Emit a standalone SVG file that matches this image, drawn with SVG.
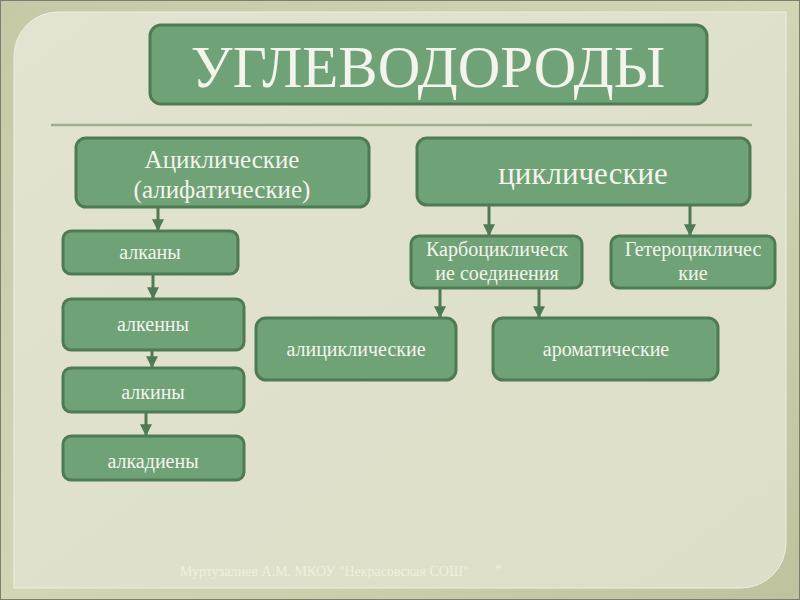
<svg xmlns="http://www.w3.org/2000/svg" width="800" height="600" viewBox="0 0 800 600">
<defs>
<linearGradient id="frame" x1="0" y1="0" x2="1" y2="1">
<stop offset="0" stop-color="#c6c8a6"/>
<stop offset="0.5" stop-color="#d3d5b5"/>
<stop offset="1" stop-color="#c0c29e"/>
</linearGradient>
<linearGradient id="panel" x1="0" y1="0" x2="1" y2="1">
<stop offset="0" stop-color="#e2e3d0"/>
<stop offset="1" stop-color="#dcdec7"/>
</linearGradient>
<marker id="ah" viewBox="0 0 10 10" refX="9" refY="5" markerWidth="4" markerHeight="4" orient="auto" markerUnits="strokeWidth">
<path d="M0,0 L10,5 L0,10 z" fill="#4f7b54"/>
</marker>
</defs>
<style>
.box{fill:#6fa277;stroke:#4f7b54;stroke-width:3}
.t{font-family:"Liberation Serif","DejaVu Serif",serif;fill:#f4f4ec;text-anchor:middle}
.c{stroke:#4f7b54;stroke-width:3;fill:none;marker-end:url(#ah)}
</style>
<rect x="0" y="0" width="800" height="600" fill="url(#frame)"/>
<rect x="0.5" y="0.5" width="799" height="599" fill="none" stroke="#7d7e70" stroke-width="1"/>
<path d="M58,12 H786 V543 A45,45 0 0 1 741,588 H14 V56 A44,44 0 0 1 58,12 Z" fill="url(#panel)" stroke="#eeefe2" stroke-width="1"/>
<line x1="51" y1="125" x2="752" y2="125" stroke="#9bb08f" stroke-width="2.5"/>
<g id="connectors">
<line class="c" x1="158" y1="208" x2="158" y2="230"/>
<line class="c" x1="153" y1="275" x2="153" y2="298"/>
<line class="c" x1="152" y1="351" x2="152" y2="367"/>
<line class="c" x1="146" y1="413" x2="146" y2="435"/>
<line class="c" x1="489" y1="206" x2="489" y2="235"/>
<line class="c" x1="690" y1="206" x2="690" y2="235"/>
<line class="c" x1="440" y1="289" x2="440" y2="317"/>
<line class="c" x1="539" y1="289" x2="539" y2="317"/>
</g>
<g id="title"><rect class="box" x="150" y="25" width="557" height="79" rx="11"/><text class="t" x="428" y="87" font-size="59">УГЛЕВОДОРОДЫ</text></g>
<g id="acyclic"><rect class="box" x="76" y="138" width="293" height="69" rx="10"/><text class="t" x="222" y="168" font-size="25">Ациклические</text><text class="t" x="222" y="198" font-size="25">(алифатические)</text></g>
<g id="cyclic"><rect class="box" x="417" y="138" width="333" height="67" rx="10"/><text class="t" x="583" y="184" font-size="31">циклические</text></g>
<g id="alkany"><rect class="box" x="63" y="231" width="175" height="43" rx="8"/><text class="t" x="150" y="259" font-size="20">алканы</text></g>
<g id="alkeny"><rect class="box" x="63" y="299" width="181" height="51" rx="8"/><text class="t" x="153" y="331" font-size="20">алкенны</text></g>
<g id="alkiny"><rect class="box" x="63" y="368" width="181" height="44" rx="8"/><text class="t" x="153" y="399" font-size="20">алкины</text></g>
<g id="alkadieny"><rect class="box" x="63" y="436" width="181" height="44" rx="8"/><text class="t" x="153" y="468" font-size="20">алкадиены</text></g>
<g id="carbo"><rect class="box" x="411" y="236" width="171" height="52" rx="8"/><text class="t" x="497" y="256" font-size="20">Карбоциклическ</text><text class="t" x="497" y="280" font-size="20">ие соединения</text></g>
<g id="hetero"><rect class="box" x="611" y="236" width="164" height="52" rx="8"/><text class="t" x="693" y="256" font-size="20">Гетероцикличес</text><text class="t" x="693" y="280" font-size="20">кие</text></g>
<g id="alicyclic"><rect class="box" x="256" y="318" width="200" height="62" rx="10"/><text class="t" x="356" y="356" font-size="20">алициклические</text></g>
<g id="aromatic"><rect class="box" x="493" y="318" width="225" height="62" rx="10"/><text class="t" x="606" y="356" font-size="20">ароматические</text></g>
<g id="footer"><text x="180" y="576" font-family="Liberation Serif, serif" font-size="14" fill="#eef0df">Муртузалиев А.М. МКОУ "Некрасовская СОШ"</text><text x="495" y="574" font-family="Liberation Serif, serif" font-size="14" fill="#eef0df">*</text></g>
</svg>
